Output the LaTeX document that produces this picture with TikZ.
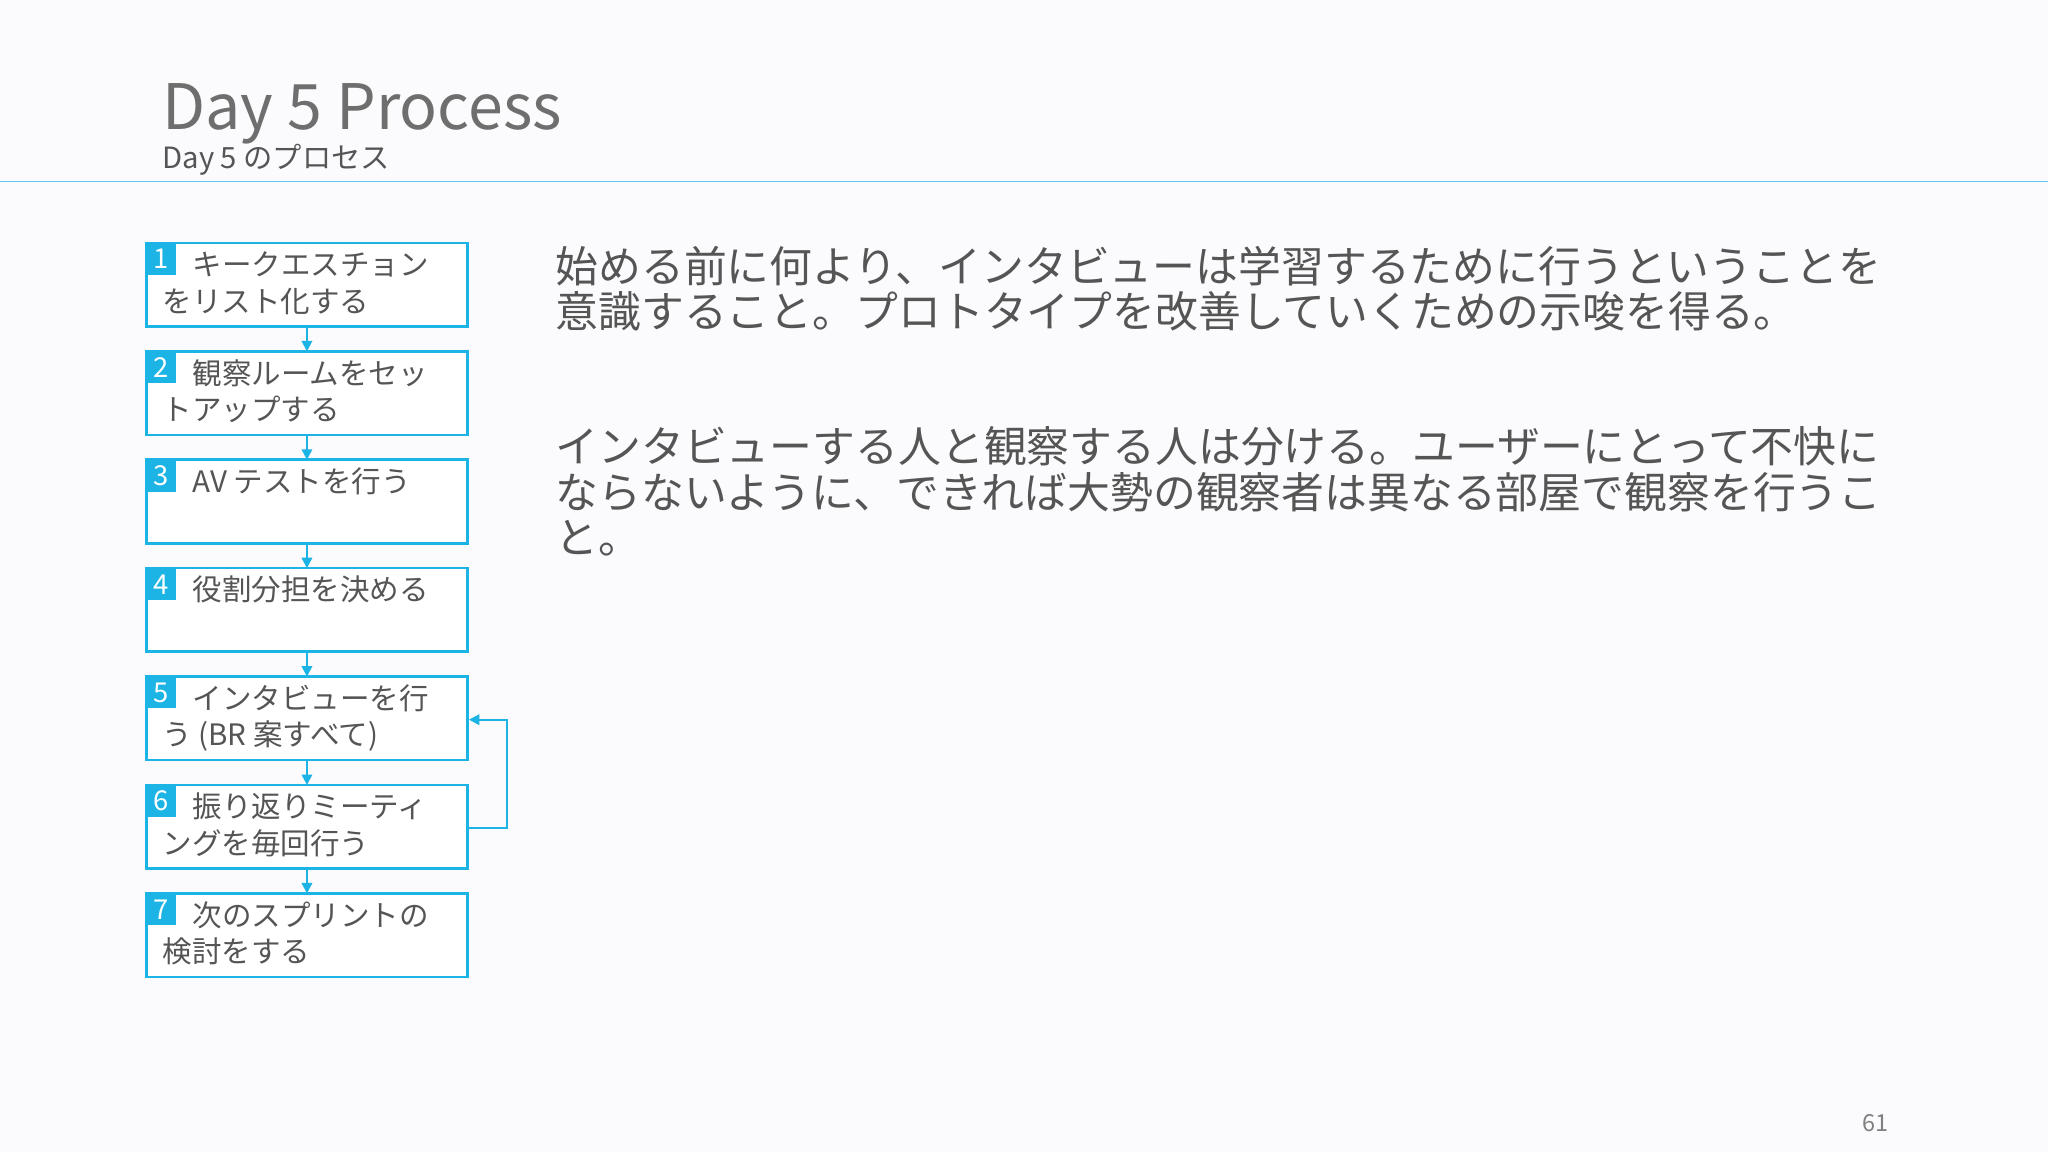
\documentclass[tikz,border=0pt]{standalone}
\usepackage{fontspec}
\setmainfont{Noto Sans CJK JP}
\usetikzlibrary{arrows.meta}
\definecolor{cy}{HTML}{1BB4E4}
\definecolor{tx}{HTML}{555555}
\definecolor{bg}{HTML}{FBFBFD}
\tikzset{
 px/.style={x=0.5pt,y=-0.5pt},
 stepbox/.style={draw=cy,line width=1pt,fill=white},
 numsq/.style={fill=cy,text=white,inner sep=0pt,minimum width=11pt,minimum height=12pt,font=\fontsize{10.5}{12}\selectfont},
 boxtxt/.style={anchor=base west,inner sep=0pt,text=tx,font=\fontsize{11.3}{13}\selectfont},
 body/.style={anchor=base west,inner sep=0pt,text=tx,font=\fontsize{16.4}{18}\selectfont},
 arr/.style={draw=cy,line width=0.8pt,-{Triangle[length=4pt,width=4pt]}}
}
\begin{document}
\begin{tikzpicture}[px]
\path[fill=bg,use as bounding box] (0,0) rectangle (1568,882);
\node[anchor=base west,inner sep=0pt,text=tx!85,font=\fontsize{24}{28}\selectfont] (title) at (124,99) {Day 5 Process};
\node[anchor=base west,inner sep=0pt,text=tx,font=\fontsize{11.2}{13}\selectfont] (sub) at (124,129) {Day 5 のプロセス};
\coordinate (l1) at (0,139); \coordinate (l2) at (1568,139);
\draw[cy!70,line width=0.6pt] (l1) -- (l2);
\foreach \i/\y/\a/\b in {1/186/キークエスチョン/をリスト化する,2/269/観察ルームをセッ/トアップする,3/352/AV テストを行う/,4/435/役割分担を決める/,5/518/インタビューを行/う (BR 案すべて),6/601/振り返りミーティ/ングを毎回行う,7/684/次のスプリントの/検討をする}{
 \path[stepbox] (112,\y) rectangle (358,\y+64);
 \node[numsq,anchor=north west] (n\i) at (112,\y) {\i};
 \node[boxtxt] (t\i) at (147,\y+25) {\a};
 \node[boxtxt] (u\i) at (124,\y+53) {\b};
 \coordinate (top\i) at (235,\y);
 \coordinate (bot\i) at (235,\y+64);
}
\foreach \i/\j in {1/2,2/3,3/4,4/5,5/6,6/7}{\draw[arr] (bot\i) -- (top\j);}
\coordinate (f6) at (358,634); \coordinate (f5) at (359,551);
\draw[arr] (f6) -- (388,634) -- (388,551) -- (f5);
\node[body] (p1) at (425,216) {始める前に何より、インタビューは学習するために行うということを};
\node[body] (p2) at (425,251) {意識すること。プロトタイプを改善していくための示唆を得る。};
\node[body] (p3) at (425,354) {インタビューする人と観察する人は分ける。ユーザーにとって不快に};
\node[body] (p4) at (425,389) {ならないように、できれば大勢の観察者は異なる部屋で観察を行うこ};
\node[body] (p5) at (425,424) {と。};
\node[anchor=base east,inner sep=0pt,text=gray,font=\fontsize{9}{10}\selectfont] (pg) at (1446,866) {61};
\end{tikzpicture}
\end{document}
